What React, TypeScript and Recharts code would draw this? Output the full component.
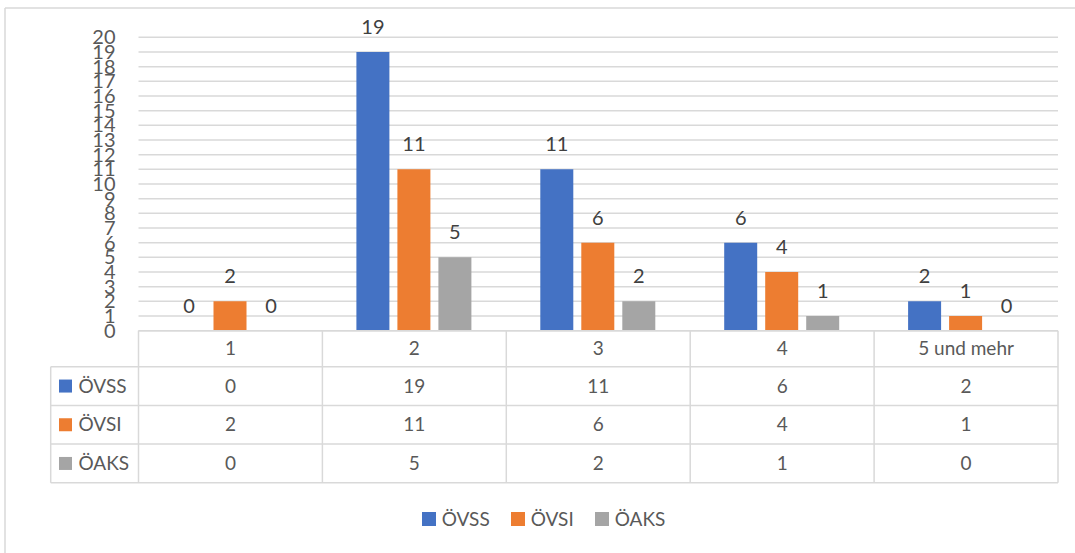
import { BarChart, Bar, XAxis, YAxis, CartesianGrid, LabelList } from 'recharts';

const categories = ['1', '2', '3', '4', '5 und mehr'];
const ovss = [0, 19, 11, 6, 2];
const ovsi = [2, 11, 6, 4, 1];
const oaks = [0, 5, 2, 1, 0];
const yTicks = [0, 1, 2, 3, 4, 5, 6, 7, 8, 9, 10, 11, 12, 13, 14, 15, 16, 17, 18, 19, 20];

const series = [
  { key: 'ovss', name: 'ÖVSS', color: '#4472C4', values: ovss },
  { key: 'ovsi', name: 'ÖVSI', color: '#ED7D31', values: ovsi },
  { key: 'oaks', name: 'ÖAKS', color: '#A5A5A5', values: oaks },
];

const data = categories.map((c, i) => {
  const row: any = { cat: c };
  series.forEach((s) => (row[s.key] = s.values[i]));
  return row;
});

const W = 1075;
const H = 553;
const PLOT_LEFT = 138.5;
const PLOT_RIGHT = 1058;
const PLOT_TOP = 37.3;
const PLOT_BOTTOM = 330.7;
const HEADER_H = 36;
const ROW_H = 38.7;
const TABLE_LEFT = 50.7;
const FONT = 'Lato, "Open Sans", sans-serif';
const TEXT = '#595959';
const LINE = '#d9d9d9';

function DataTable() {
  const colW = (PLOT_RIGHT - PLOT_LEFT) / categories.length;
  const headerBottom = PLOT_BOTTOM + HEADER_H;
  const tableBottom = headerBottom + ROW_H * series.length;
  const lines = [];
  // horizontal lines
  lines.push(<line key="h0" x1={PLOT_LEFT} x2={PLOT_RIGHT} y1={PLOT_BOTTOM} y2={PLOT_BOTTOM} />);
  for (let r = 0; r <= series.length; r++) {
    const y = headerBottom + r * ROW_H;
    lines.push(<line key={'h' + (r + 1)} x1={TABLE_LEFT} x2={PLOT_RIGHT} y1={y} y2={y} />);
  }
  // vertical lines
  lines.push(<line key="vl" x1={TABLE_LEFT} x2={TABLE_LEFT} y1={headerBottom} y2={tableBottom} />);
  for (let c = 0; c <= categories.length; c++) {
    const x = PLOT_LEFT + c * colW;
    lines.push(<line key={'v' + c} x1={x} x2={x} y1={PLOT_BOTTOM} y2={tableBottom} />);
  }
  return (
    <svg width={W} height={H} style={{ position: 'absolute', left: 0, top: 0, pointerEvents: 'none' }}>
      <line x1={5} x2={W} y1={8} y2={8} stroke={LINE} strokeWidth={1.5} />
      <line x1={5} x2={5} y1={8} y2={H} stroke={LINE} strokeWidth={1.5} />
      <g stroke={LINE} strokeWidth={1.5}>{lines}</g>
      {series.map((s, r) => {
        const cy = headerBottom + r * ROW_H + ROW_H / 2;
        return (
          <g key={s.key}>
            <rect x={59} y={cy - 6.5} width={13} height={13} fill={s.color} />
            <text x={78.5} y={cy} dy="0.35em" fontSize={19} fill={TEXT} fontFamily={FONT}>
              {s.name}
            </text>
            {s.values.map((v, i) => (
              <text
                key={i}
                x={PLOT_LEFT + colW * (i + 0.5)}
                y={cy}
                dy="0.35em"
                textAnchor="middle"
                fontSize={19}
                fill={TEXT}
                fontFamily={FONT}
              >
                {v}
              </text>
            ))}
          </g>
        );
      })}
    </svg>
  );
}

function BottomLegend() {
  return (
    <div
      style={{
        position: 'absolute',
        left: 0,
        top: 507,
        width: W,
        display: 'flex',
        justifyContent: 'center',
        gap: 21,
        fontFamily: FONT,
        fontSize: 19,
        color: TEXT,
        paddingLeft: 12,
        boxSizing: 'border-box',
      }}
    >
      {series.map((s) => (
        <div key={s.key} style={{ display: 'flex', alignItems: 'center', gap: 6 }}>
          <span style={{ width: 14, height: 14, background: s.color, display: 'inline-block' }} />
          <span>{s.name}</span>
        </div>
      ))}
    </div>
  );
}

export default function App() {
  const xAxisH = HEADER_H;
  return (
    <div style={{ position: 'absolute', left: 0, top: 0, width: W, height: H, background: '#fff' }}>
      <BarChart
        width={W}
        height={H}
        data={data}
        barSize={33}
        barGap={8}
        margin={{ top: PLOT_TOP, right: W - PLOT_RIGHT, left: PLOT_LEFT - 60, bottom: H - PLOT_BOTTOM - xAxisH }}
      >
        <CartesianGrid vertical={false} stroke={LINE} strokeWidth={1.5} />
        <XAxis
          dataKey="cat"
          height={xAxisH}
          axisLine={false}
          tickLine={false}
          tickSize={0}
          tickMargin={11}
          interval={0}
          tick={{ fontSize: 19, fill: TEXT, fontFamily: FONT }}
        />
        <YAxis
          width={60}
          domain={[0, 20]}
          ticks={yTicks}
          interval={0}
          axisLine={false}
          tickLine={false}
          tickSize={0}
          tickMargin={23}
          tick={{ fontSize: 20, fill: TEXT, fontFamily: FONT }}
        />
        {series.map((s) => (
          <Bar
            key={s.key}
            dataKey={s.key}
            name={s.name}
            fill={s.color}
            minPointSize={0.01}
            isAnimationActive={false}
          >
            <LabelList dataKey={s.key} position="top" offset={18} fontSize={20} fill="#404040" fontFamily={FONT} />
          </Bar>
        ))}
      </BarChart>
      <DataTable />
      <BottomLegend />
    </div>
  );
}
